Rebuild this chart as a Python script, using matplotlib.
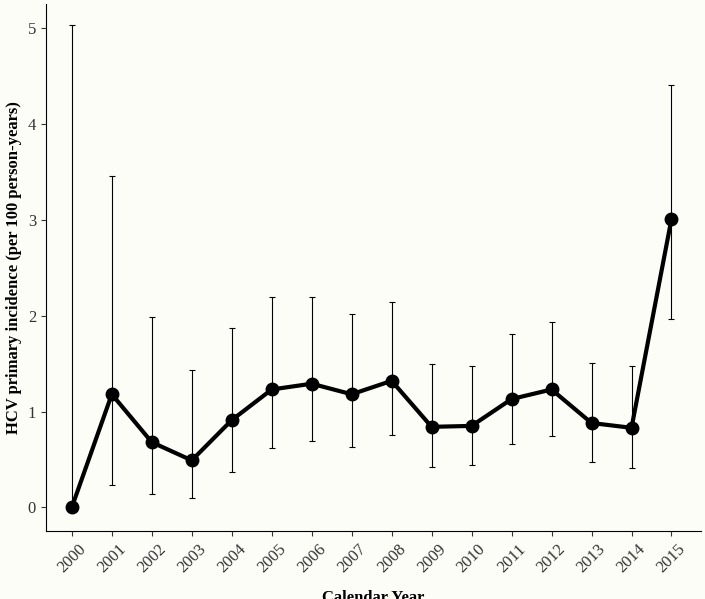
import matplotlib
matplotlib.use("Agg")
import matplotlib.pyplot as plt

years = list(range(2000, 2016))
incidence = [0, 1.18, 0.68, 0.49, 0.91, 1.23, 1.29, 1.18, 1.32, 0.84, 0.85, 1.13, 1.23, 0.88, 0.83, 3.01]
lower = [0, 0.23, 0.14, 0.10, 0.37, 0.62, 0.69, 0.63, 0.76, 0.42, 0.44, 0.66, 0.74, 0.47, 0.41, 1.97]
upper = [5.03, 3.46, 1.99, 1.43, 1.87, 2.20, 2.20, 2.02, 2.14, 1.50, 1.48, 1.81, 1.93, 1.51, 1.48, 4.41]

plt.rcParams["font.family"] = "Liberation Serif"
bg = "#fdfdf8"
fig = plt.figure(figsize=(7.05, 5.99), dpi=100, facecolor=bg)
ax = fig.add_axes([0.065, 0.113, 0.93, 0.88], facecolor=bg)

yerr = [[v - l for v, l in zip(incidence, lower)], [u - v for v, u in zip(incidence, upper)]]
ax.errorbar(years, incidence, yerr=yerr, fmt="none", ecolor="black", elinewidth=0.8, capsize=2.5, capthick=0.8)
ax.plot(years, incidence, color="black", lw=3, marker="o", ms=9)

ax.set_xlim(1999.35, 2015.75)
ax.set_ylim(-0.25, 5.25)
ax.set_xticks(years)
ax.set_xticklabels([str(y) for y in years], rotation=45, fontsize=12)
ax.set_yticks(range(6))
ax.tick_params(labelsize=12, colors="#333333")
for s in ("top", "right"):
    ax.spines[s].set_visible(False)
ax.set_xlabel("Calendar Year", fontsize=12, fontweight="bold", labelpad=10)
ax.set_ylabel("HCV primary incidence (per 100 person-years)", fontsize=12, fontweight="bold")

fig.savefig("out.png", dpi=100, facecolor=bg)
